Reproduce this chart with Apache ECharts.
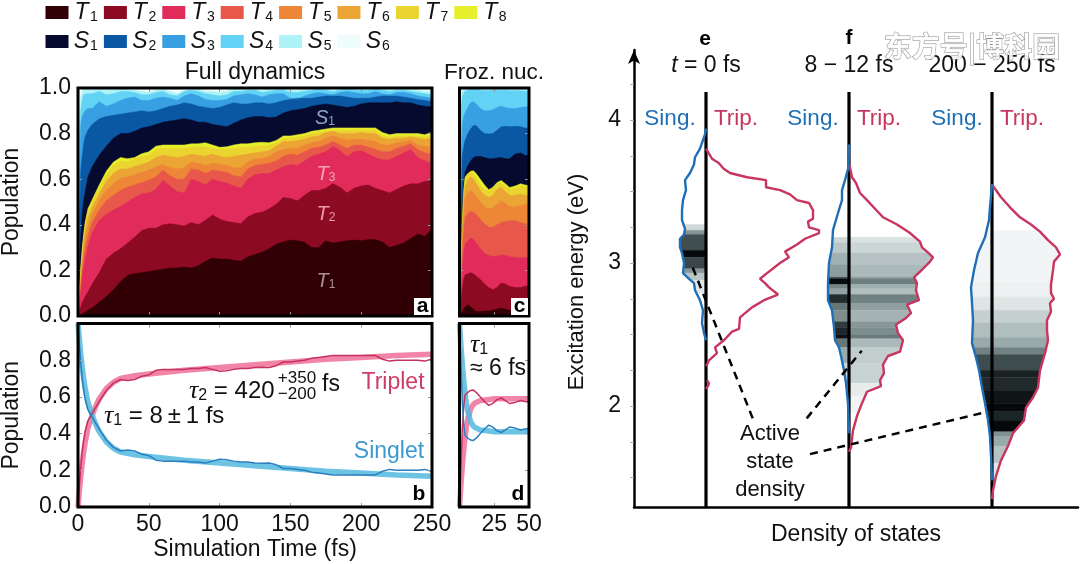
<!DOCTYPE html>
<html><head><meta charset="utf-8">
<script src="https://cdn.jsdelivr.net/npm/echarts@6/dist/echarts.min.js"></script>
<style>html,body{margin:0;padding:0;background:#fff}#c{width:1080px;height:564px}</style>
</head><body><div id="c"></div>
<script>
// ---------- panel a: upper boundary of each state, cumulative population ----------
const timeA=[0,1,2,3,4,5,7,10,15,20,25,30,35,40,45,50,55,60,65,70,75,80,85,90,95,100,105,110,115,120,125,130,135,140,145,150,155,160,165,170,175,180,185,190,195,200,205,210,215,220,225,230,235,240,245,250];
const aT1=[0,.003,.006,.01,.012,.015,.025,.035,.06,.085,.115,.15,.178,.185,.19,.195,.20,.205,.21,.21,.215,.21,.22,.24,.254,.25,.25,.245,.24,.26,.27,.28,.295,.315,.325,.333,.33,.323,.30,.30,.33,.32,.325,.33,.333,.33,.335,.335,.325,.30,.31,.32,.34,.36,.35,.38];
const aT2=[0,.02,.04,.06,.07,.085,.105,.14,.19,.25,.275,.295,.32,.345,.375,.385,.385,.40,.405,.40,.395,.41,.40,.42,.443,.425,.415,.41,.405,.435,.45,.455,.47,.49,.52,.515,.505,.53,.55,.55,.56,.58,.565,.54,.56,.57,.575,.56,.55,.54,.555,.57,.58,.58,.59,.595];
const aT3=[0,.05,.11,.17,.21,.245,.305,.365,.42,.445,.465,.48,.50,.52,.535,.54,.555,.595,.57,.545,.54,.60,.59,.575,.60,.59,.583,.57,.56,.60,.62,.625,.625,.64,.655,.665,.66,.68,.70,.71,.72,.745,.725,.70,.72,.725,.71,.695,.685,.685,.70,.715,.73,.695,.68,.67];
const aT4=[0,.07,.135,.2,.25,.29,.35,.41,.465,.505,.53,.55,.565,.575,.585,.595,.61,.64,.615,.60,.60,.645,.64,.625,.64,.635,.63,.615,.61,.645,.66,.665,.67,.68,.70,.71,.705,.72,.735,.74,.75,.765,.75,.735,.75,.75,.74,.73,.72,.72,.735,.745,.755,.73,.715,.71];
const aT5=[0,.085,.16,.23,.29,.335,.39,.445,.505,.55,.58,.605,.61,.62,.63,.64,.655,.665,.65,.645,.65,.675,.67,.66,.67,.665,.66,.65,.65,.675,.69,.69,.70,.72,.73,.735,.735,.75,.76,.765,.78,.79,.78,.77,.775,.775,.77,.765,.75,.75,.76,.765,.77,.75,.745,.74];
const aT6=[0,.10,.18,.26,.32,.37,.43,.475,.535,.59,.625,.645,.645,.655,.665,.675,.695,.705,.70,.695,.70,.71,.705,.70,.71,.70,.695,.70,.705,.71,.715,.72,.725,.745,.765,.765,.77,.775,.785,.79,.805,.81,.80,.80,.80,.805,.80,.80,.78,.775,.78,.78,.785,.78,.775,.78];
const aT7=[0,.11,.205,.285,.345,.395,.455,.50,.56,.62,.66,.68,.675,.69,.70,.705,.73,.735,.735,.735,.735,.74,.745,.74,.735,.73,.73,.735,.74,.74,.745,.745,.75,.76,.78,.78,.785,.79,.80,.805,.81,.815,.815,.815,.815,.815,.815,.815,.79,.785,.79,.79,.79,.79,.785,.795];
const aT8=[0,.12,.22,.30,.36,.41,.47,.51,.575,.635,.675,.695,.69,.695,.712,.72,.745,.75,.75,.75,.75,.755,.755,.76,.75,.74,.742,.75,.755,.755,.76,.762,.76,.77,.79,.79,.795,.80,.81,.815,.82,.825,.825,.825,.825,.825,.825,.825,.805,.795,.80,.80,.80,.80,.795,.807];
const aS1=[0,.2,.36,.45,.51,.54,.61,.655,.705,.745,.78,.80,.80,.81,.825,.83,.84,.85,.855,.86,.865,.86,.85,.85,.84,.835,.83,.845,.86,.87,.875,.875,.87,.873,.89,.90,.905,.91,.92,.925,.93,.925,.92,.915,.92,.93,.935,.935,.935,.935,.94,.935,.935,.925,.92,.917];
const aS2=[0,.4,.64,.70,.755,.785,.815,.84,.865,.875,.88,.885,.89,.895,.90,.895,.90,.91,.92,.925,.935,.93,.92,.915,.91,.915,.925,.935,.93,.93,.935,.935,.93,.935,.945,.95,.955,.955,.955,.96,.965,.965,.965,.96,.955,.955,.955,.96,.965,.965,.965,.96,.955,.95,.945,.94];
const aS3=[0,.55,.84,.875,.89,.90,.91,.91,.94,.92,.93,.945,.955,.96,.945,.945,.955,.96,.955,.945,.965,.975,.965,.95,.945,.945,.95,.965,.97,.975,.97,.96,.97,.975,.975,.955,.95,.965,.975,.98,.975,.97,.98,.985,.98,.975,.975,.985,.975,.97,.98,.98,.975,.965,.96,.955];
const aS4=[0,.75,.90,.95,.97,.975,.975,.975,.985,.97,.975,.985,.985,.98,.97,.97,.98,.985,.97,.965,.985,.99,.985,.975,.97,.965,.97,.985,.985,.99,.99,.98,.985,.99,.99,.98,.98,.985,.99,.995,.99,.985,.99,.995,.99,.99,.99,.995,.99,.985,.99,.99,.985,.98,.975,.97];
const aS5=[0,.85,.96,.985,.99,.995,.995,.995,.995,.99,.995,.995,.995,.99,.985,.98,.99,.995,.985,.975,.99,.995,.995,.985,.985,.98,.985,.995,.995,.995,.995,.99,.995,.995,.995,.99,.99,.995,.995,.998,.995,.99,.995,.998,.995,.995,.995,.998,.995,.995,.995,.995,.995,.99,.985,.985];
const aS6=timeA.map(()=>1);

// ---------- panel c: same, frozen nuclei ----------
const timeC=[0,1,2,3,4,6,8,10,12,15,18,21,24,27,30,33,36,40,44,47,50];
const cT1=[0,.01,.02,.03,.04,.05,.04,.03,.02,.02,.022,.022,.025,.03,.035,.03,.025,.025,.02,.015,.012];
const cT2=[0,.06,.12,.16,.18,.185,.19,.185,.175,.16,.14,.125,.115,.125,.145,.14,.13,.125,.125,.13,.133];
const cT3=[0,.1,.2,.27,.315,.33,.342,.335,.32,.295,.275,.265,.26,.262,.268,.266,.26,.257,.255,.255,.257];
const cT4=[0,.13,.27,.37,.43,.45,.46,.455,.445,.425,.405,.39,.39,.40,.41,.415,.418,.418,.41,.405,.40];
const cT5=[0,.16,.33,.45,.52,.54,.55,.54,.525,.50,.48,.47,.475,.49,.505,.495,.48,.477,.485,.49,.49];
const cT6=[0,.18,.37,.50,.565,.595,.61,.60,.58,.55,.53,.52,.53,.555,.565,.545,.53,.53,.535,.53,.528];
const cT7=[0,.2,.4,.53,.60,.62,.63,.625,.605,.57,.555,.547,.56,.58,.586,.57,.557,.56,.57,.567,.564];
const cT8=[0,.21,.42,.55,.61,.625,.635,.637,.625,.60,.575,.554,.565,.585,.594,.58,.564,.57,.58,.575,.572];
const cS1=[0,.25,.47,.58,.63,.66,.68,.695,.70,.70,.695,.69,.69,.693,.695,.69,.69,.71,.715,.705,.703];
const cS2=[0,.45,.70,.74,.77,.80,.82,.835,.835,.815,.80,.798,.80,.815,.83,.832,.83,.832,.83,.825,.825];
const cS3=[0,.70,.83,.875,.89,.915,.935,.94,.93,.91,.90,.90,.905,.915,.92,.915,.91,.91,.915,.917,.918];
const cS4=[0,.9,.96,.98,.985,.99,.995,.995,.995,.99,.988,.988,.99,.99,.99,.99,.988,.988,.988,.986,.985];
const cS5=[0,.95,.99,.995,.998,.998,.998,.998,.998,.998,.998,.998,.998,.998,.998,.998,.998,.998,.998,.998,.998];
const cS6=timeC.map(()=>1);

// ---------- panels b, d: fits (raw curves are the T8 boundary of a and c) ----------
const timeFitB=[0,1,2,3,4,5,7,10,12,15,20,25,30,40,50,75,100,125,150,175,200,225,250];
const fitTripB=[0,.09,.17,.24,.30,.35,.43,.50,.54,.59,.645,.68,.70,.715,.725,.745,.76,.775,.79,.805,.815,.825,.832];
const fitSingB=[1,.91,.83,.76,.70,.65,.57,.50,.46,.41,.355,.32,.30,.285,.275,.255,.24,.225,.21,.195,.185,.175,.168];
const timeFitD=[0,1,2,3,4,5,6,8,10,12,15,20,25,30,40,50];
const fitTripD=[0,.12,.22,.31,.38,.44,.48,.535,.56,.57,.58,.585,.59,.59,.59,.59];
const fitSingD=[1,.88,.78,.69,.62,.56,.52,.465,.44,.43,.42,.415,.41,.41,.41,.41];

// ---------- panels e, f, g: [energy eV, density] ----------
const tripE=[[3.80,0],[3.79,2],[3.73,6],[3.70,12.7],[3.66,17.7],[3.63,24],[3.60,41],[3.58,60],[3.53,60],[3.51,74],[3.48,84],[3.44,91],[3.42,103],[3.37,107],[3.31,107],[3.29,102],[3.25,103],[3.23,113],[3.21,113],[3.17,99],[3.13,91],[3.08,79],[3.04,83],[3.0,74],[2.94,63],[2.89,54],[2.86,59],[2.83,63],[2.78,72],[2.74,58],[2.69,46],[2.62,34],[2.54,33],[2.52,26],[2.46,18],[2.41,9],[2.37,11],[2.32,3],[2.29,1],[2.28,0]];
const tripE2=[[2.18,1],[2.16,3],[2.14,2],[2.12,0]];
const singE=[[3.94,0],[3.9,1],[3.86,3],[3.80,6],[3.74,11],[3.69,12],[3.63,16],[3.58,21],[3.51,20],[3.44,23],[3.37,24],[3.30,24],[3.24,21],[3.20,22],[3.17,26],[3.11,26],[3.07,24],[3.0,22],[2.93,23],[2.89,17],[2.86,12],[2.81,11],[2.74,6],[2.67,3],[2.58,4],[2.51,2],[2.46,0]];
const tripF=[[3.69,0],[3.67,1],[3.60,3],[3.56,7],[3.49,11],[3.44,18],[3.38,26],[3.32,34],[3.27,48],[3.21,61],[3.15,71],[3.11,73],[3.08,78],[3.04,84],[3.01,81],[2.96,74],[2.90,65],[2.86,68],[2.81,67],[2.74,70],[2.71,58],[2.65,62],[2.61,56],[2.57,47],[2.51,49],[2.46,54],[2.38,51],[2.35,39],[2.29,34],[2.23,35],[2.18,31],[2.14,32],[2.10,18],[2.02,13],[1.93,8],[1.83,4],[1.71,2],[1.68,0]];
const singF=[[3.83,0],[3.67,.5],[3.58,4],[3.51,7],[3.44,7],[3.35,11],[3.23,16],[3.11,17],[3.0,20],[2.86,21],[2.74,21],[2.67,17],[2.55,15],[2.46,14],[2.41,10],[2.35,8],[2.25,5],[2.16,3],[2.02,1],[1.81,0]];
const tripG=[[3.55,0],[3.52,3],[3.46,9],[3.39,18],[3.32,28],[3.27,39],[3.22,48],[3.16,56],[3.11,64],[3.06,68],[3.01,62],[2.95,61],[2.85,59],[2.79,59],[2.75,62],[2.72,58],[2.66,59],[2.60,55],[2.53,55],[2.46,56],[2.37,53],[2.25,48],[2.13,46],[2.06,41],[1.99,34],[1.90,32],[1.81,21],[1.72,16],[1.62,9],[1.51,4],[1.41,1],[1.35,0]];
const singG=[[3.55,0],[3.39,2],[3.30,3],[3.18,7],[3.07,14],[2.95,18],[2.83,21],[2.72,20],[2.60,19],[2.44,20],[2.34,16],[2.25,13],[2.13,10],[2.02,7],[1.90,4],[1.79,2],[1.65,1],[1.48,0]];

// active-state density: band edges (eV, descending), relative intensity on the singlet and triplet sides
const edgesE=[3.27,3.23,3.20,3.09,3.04,2.96,2.93,2.88,2.79];
const activeSingE=[.18,.48,.75,.99,.78,.48,.28,.12];
const edgesF=[3.18,3.14,3.07,2.99,2.90,2.89,2.85,2.82,2.78,2.72,2.67,2.59,2.55,2.50,2.47,2.41,2.30,2.16,2.07,1.95];
const activeSingF=[.20,.27,.37,.45,.82,.98,.55,.43,.87,.60,.51,.82,.89,.96,.60,.40,.18,.09,.05];
const activeTripF=[.15,.20,.29,.33,.50,.57,.37,.31,.56,.44,.36,.47,.51,.59,.33,.24,.22,.10,.05];
const edgesG=[3.23,2.86,2.76,2.67,2.58,2.48,2.41,2.36,2.25,2.20,2.11,2.02,1.96,1.90,1.82,1.79,1.72,1.60,1.48];
const activeG=[.05,.07,.13,.23,.31,.40,.56,.76,.91,.88,.95,.99,.90,.99,.50,.40,.29,.12];

const activeLead1=[[118.7,1.914],[57.7,2.986]];
const activeLead2=[[172.7,1.914],[227.7,2.387]];
const activeLead3=[[176,1.664],[351,1.956]];

const stateNames=['T1','T2','T3','T4','T5','T6','T7','T8','S1','S2','S3','S4','S5','S6'];
const stateColors=['#300005','#8c0a22','#e12c5b','#e8584a','#ee8638','#eaa534','#ead42f','#e6ef2c','#060a2e','#0a58a4','#389fe2','#62d2f5','#aef3f7','#eefcfc'];
const boundsA=[aT1,aT2,aT3,aT4,aT5,aT6,aT7,aT8,aS1,aS2,aS3,aS4,aS5,aS6];
const boundsC=[cT1,cT2,cT3,cT4,cT5,cT6,cT7,cT8,cS1,cS2,cS3,cS4,cS5,cS6];
const yTicks=[0,.2,.4,.6,.8,1];
const font='"Liberation Sans"';
const FS=23;
const baseE=72,baseF=215,baseG=358;

// each state's area is painted from its cumulative upper boundary down, top state first
function layered(times,bounds,xi,yi){
  return bounds.map((b,i)=>({
    name:stateNames[i],type:'line',xAxisIndex:xi,yAxisIndex:yi,symbol:'none',silent:true,
    itemStyle:{color:stateColors[i]},
    lineStyle:{width:.5,color:stateColors[i]},
    areaStyle:{color:stateColors[i],opacity:1},
    data:times.map((t,k)=>[t,b[k]])
  })).reverse();
}
function line(times,vals,xi,yi,color,width,opacity){
  return {type:'line',xAxisIndex:xi,yAxisIndex:yi,symbol:'none',silent:true,z:3,
    lineStyle:{color,width,opacity:opacity==null?1:opacity},
    data:times.map((t,k)=>[t,vals[k]])};
}
function ax(dim,grid,pos,min,max,labelVals,tickVals,show){
  return {type:'value',gridIndex:grid,position:pos,min,max,z:5,splitLine:{show:false},
    axisLine:{show:false,onZero:false},
    axisTick:{show:true,inside:true,length:4,lineStyle:{color:'#9a9a9a',width:1},customValues:tickVals},
    axisLabel:{show:!!show,customValues:labelVals||[],color:'#111',fontFamily:font,fontSize:FS,
      margin:dim==='y'?7:6,hideOverlap:false,showMinLabel:true,showMaxLabel:true,
      padding:dim==='y'?[2,0,0,0]:0,
      formatter:dim==='y'?(v=>v.toFixed(1)):(v=>String(v))}};
}
const nameStyle={color:'#111',fontFamily:font,fontSize:FS};
const xAxes=[
  ax('x',0,'bottom',0,250,[],[50,100,150,200]),ax('x',0,'top',0,250,[],[50,100,150,200]),
  ax('x',1,'bottom',0,250,[0,50,100,150,200,250],[50,100,150,200],true),ax('x',1,'top',0,250,[],[50,100,150,200]),
  ax('x',2,'bottom',0,50,[],[25]),ax('x',2,'top',0,50,[],[25]),
  ax('x',3,'bottom',0,50,[25,50],[25],true),ax('x',3,'top',0,50,[],[25]),
  {type:'value',gridIndex:4,min:0,max:444,z:5,splitLine:{show:false},
   axisLine:{show:true,onZero:false,lineStyle:{color:'#000',width:2.5}},axisTick:{show:false},axisLabel:{show:false},
   name:'Density of states',nameLocation:'middle',nameGap:16,nameTextStyle:nameStyle}
];
xAxes[2].name='Simulation Time (fs)';xAxes[2].nameLocation='middle';xAxes[2].nameGap=31;xAxes[2].nameMoveOverlap=false;xAxes[2].nameTextStyle=nameStyle;
const yAxes=[
  ax('y',0,'left',0,1,yTicks,[.2,.4,.6,.8],true),ax('y',0,'right',0,1,[],[.2,.4,.6,.8]),
  ax('y',1,'left',0,1,[0,.2,.4,.6,.8],[.2,.4,.6,.8],true),ax('y',1,'right',0,1,[],[.2,.4,.6,.8]),
  ax('y',2,'left',0,1,[],[.2,.4,.6,.8]),ax('y',2,'right',0,1,[],[.2,.4,.6,.8]),
  ax('y',3,'left',0,1,[],[.2,.4,.6,.8]),ax('y',3,'right',0,1,[],[.2,.4,.6,.8]),
  {type:'value',gridIndex:4,min:1.294,max:4.49,z:5,splitLine:{show:false},
   axisLine:{show:true,onZero:false,symbol:['none','arrow'],symbolSize:[9,14],lineStyle:{color:'#000',width:2.5}},
   axisTick:{show:true,length:4,lineStyle:{color:'#aaa',width:1},customValues:[1.5,1.75,2,2.25,2.5,2.75,3,3.25,3.5,3.75,4,4.25]},
   axisLabel:{show:true,customValues:[2,3,4],color:'#111',fontFamily:font,fontSize:FS,margin:13,padding:[4,0,0,0],formatter:v=>String(v)}}
];
yAxes[0].name='Population';yAxes[0].nameLocation='middle';yAxes[0].nameGap=55;yAxes[0].nameTextStyle=nameStyle;
yAxes[2].name='Population';yAxes[2].nameLocation='middle';yAxes[2].nameGap=55;yAxes[2].nameTextStyle=nameStyle;

function curveAt(c,e){
  for(let i=0;i<c.length-1;i++){
    const a=c[i],b=c[i+1];
    if(e<=a[0]&&e>=b[0]){return a[0]===b[0]?a[1]:a[1]+(b[1]-a[1])*(a[0]-e)/(a[0]-b[0]);}
  }
  return 0;
}
function grey(v){
  const f=1-v;
  return 'rgb('+Math.round(2+253*f)+','+Math.round(6+249*f+55*f*v)+','+Math.round(8+247*f+55*f*v)+')';
}
const bands=[];
function addBands(base,side,curve,edges,vals){
  vals.forEach((v,i)=>{
    const hi=edges[i],lo=edges[i+1];
    const pts=[[hi,curveAt(curve,hi)]];
    curve.forEach(p=>{if(p[0]<hi&&p[0]>lo)pts.push(p);});
    pts.push([lo,curveAt(curve,lo)]);
    bands.push({base,side,pts,hi,lo,v});
  });
}
addBands(baseE,-1,singE,edgesE,activeSingE);
addBands(baseF,-1,singF,edgesF,activeSingF);
addBands(baseF,1,tripF,edgesF,activeTripF);
addBands(baseG,-1,singG,edgesG,activeG);
addBands(baseG,1,tripG,edgesG,activeG);

function dos(base,side,curve,color){
  return {type:'line',xAxisIndex:8,yAxisIndex:8,symbol:'none',silent:true,z:6,
    lineStyle:{color,width:2.4},data:curve.map(p=>[base+side*p[1],p[0]])};
}
function vbar(x){
  return {type:'line',xAxisIndex:8,yAxisIndex:8,symbol:'none',silent:true,z:5,
    lineStyle:{color:'#000',width:3.2},data:[[x,1.294],[x,4.196]]};
}
function lead(p){
  return {type:'line',xAxisIndex:8,yAxisIndex:8,symbol:'none',silent:true,z:7,
    lineStyle:{color:'#000',width:2.5,type:[8,6]},data:p};
}
const TRIP='#c8355f',SING='#1f6fb7';
const series=[
  ...layered(timeA,boundsA,0,0),
  ...layered(timeC,boundsC,4,4),
  line(timeFitB,fitTripB,2,2,'#ee6f98',5.5,.85),
  line(timeFitB,fitSingB,2,2,'#52b8de',5.5,.85),
  line(timeA,aT8,2,2,'#c5325f',1.5),
  line(timeA,aT8.map(v=>1-v),2,2,'#2b7fbf',1.5),
  line(timeFitD,fitTripD,6,6,'#ee6f98',5.5,.85),
  line(timeFitD,fitSingD,6,6,'#52b8de',5.5,.85),
  line(timeC,cT8,6,6,'#c5325f',1.5),
  line(timeC,cT8.map(v=>1-v),6,6,'#2b7fbf',1.5),
  {type:'custom',xAxisIndex:8,yAxisIndex:8,silent:true,clip:false,z:3,
   data:bands.map((b,i)=>[i]),
   renderItem:(params,api)=>{
     const b=bands[params.dataIndex];
     const left=b.pts.map(p=>api.coord([b.base+b.side*p[1],p[0]]));
     const right=[api.coord([b.base,b.lo]),api.coord([b.base,b.hi])];
     const c=grey(b.v);
     return {type:'polygon',shape:{points:left.concat(right)},style:{fill:c,stroke:c,lineWidth:.4}};
   }},
  vbar(baseE),vbar(baseF),vbar(baseG),
  dos(baseE,1,tripE,TRIP),dos(baseE,1,tripE2,TRIP),dos(baseE,-1,singE,SING),
  dos(baseF,1,tripF,TRIP),dos(baseF,-1,singF,SING),
  dos(baseG,1,tripG,TRIP),dos(baseG,-1,singG,SING),
  lead(activeLead1),lead(activeLead2),lead(activeLead3)
];

function t(text,x,y,size,opts){
  opts=opts||{};
  return {type:'text',x,y,z:20,rotation:opts.rot||0,silent:true,style:Object.assign({
    text,fill:opts.fill||'#111',font:(opts.style||'')+' '+size+'px '+(opts.family||font),
    align:opts.align||'center',verticalAlign:'middle'},opts.extra||{})};
}
const richTau={g:{fontFamily:'"Liberation Serif"',fontStyle:'italic',fontSize:26,fill:'#111'},
  s:{fontFamily:font,fontSize:16,padding:[9,0,0,0],fill:'#111'},
  n:{fontFamily:font,fontSize:24,fill:'#111'}};
function stateLabel(a,b,x,y,fill){
  return {type:'text',x,y,z:20,silent:true,style:{text:'{i|'+a+'}{s|'+b+'}',align:'center',verticalAlign:'middle',
    rich:{i:{fontFamily:font,fontStyle:'italic',fontSize:20,fill},s:{fontFamily:font,fontSize:12,fill,padding:[8,0,0,0]}}}};
}
const graphics=[
  t('Full dynamics',255,73,FS),t('Froz. nuc.',494,73,22.5),
  {type:'rect',z:15,silent:true,shape:{x:414,y:298,width:17,height:17},style:{fill:'#fff'}},
  {type:'rect',z:15,silent:true,shape:{x:511,y:298,width:17,height:17},style:{fill:'#fff'}},
  t('a',422.5,306,21,{style:'bold',fill:'#000'}),t('c',519.5,306,21,{style:'bold',fill:'#000'}),
  t('b',419,494,21,{style:'bold',fill:'#000'}),t('d',518,494,21,{style:'bold',fill:'#000'}),
  stateLabel('S','1',325,118,'#8fa4c2'),stateLabel('T','3',326,174,'#f4a5b6'),
  stateLabel('T','2',326,214,'#ee9aac'),stateLabel('T','1',326,281,'#ab9299'),
  t('Triplet',393,383,FS,{fill:'#cf3b68'}),t('Singlet',389,452,FS,{fill:'#3b9ad0'}),
  {type:'text',x:104,y:416,z:20,silent:true,style:{text:'{g|τ}{s|1}{n| = 8\u2009±\u20091 fs}',align:'left',verticalAlign:'middle',rich:richTau}},
  {type:'text',x:189,y:391,z:20,silent:true,style:{text:'{g|τ}{s|2}{n| = 420}',align:'left',verticalAlign:'middle',rich:richTau}},
  t('+350',297,378,17),t('−200',297,394,17),t('fs',331,385,FS),
  {type:'text',x:470,y:345,z:20,silent:true,style:{text:'{g|τ}{s|1}',align:'left',verticalAlign:'middle',rich:richTau}},
  t('≈ 6 fs',498,369,FS),
  t('e',705,39,21,{style:'bold',fill:'#000'}),t('f',849,38,21,{style:'bold',fill:'#000'}),
  {type:'text',x:706,y:66,z:20,silent:true,style:{text:'{g|t}{n| = 0 fs}',align:'center',verticalAlign:'middle',
    rich:{g:{fontFamily:font,fontStyle:'italic',fontSize:FS,fill:'#111'},n:{fontFamily:font,fontSize:FS,fill:'#111'}}}},
  t('8 − 12 fs',849,66,FS),t('200 − 250 fs',992,66,FS),
  t('Sing.',670,119,22.5,{fill:SING}),t('Trip.',736,119,22.5,{fill:TRIP}),
  t('Sing.',813,119,22.5,{fill:SING}),t('Trip.',879,119,22.5,{fill:TRIP}),
  t('Sing.',957,119,22.5,{fill:SING}),t('Trip.',1022,119,22.5,{fill:TRIP}),
  t('Active',770,434,22),t('state',770,462,22),t('density',770,490,22),
  t('Excitation energy (eV)',577,282,22,{rot:Math.PI/2}),
  {type:'text',x:972,y:46,z:25,silent:true,style:{text:'东方号|博科园',align:'center',verticalAlign:'middle',
    font:'bold 28px "Noto Sans CJK SC"',fill:'rgba(255,255,255,.9)',stroke:'#8f8f8f',lineWidth:1}}
];
const legendRich={i:{fontFamily:font,fontStyle:'italic',fontSize:23,color:'#111',width:16,align:'right'},
  s:{fontFamily:font,fontSize:14,color:'#111',width:9,padding:[10,0,0,0]}};
const legendBase={show:true,orient:'horizontal',icon:'rect',itemWidth:23,itemHeight:13,itemGap:6,padding:0,selectedMode:false,
  textStyle:{rich:legendRich},formatter:n=>'{i|'+n[0]+'}{s|'+n[1]+'}'};

const chart=echarts.init(document.getElementById('c'),null,{renderer:'canvas'});
const frame={show:true,z:10,backgroundColor:'transparent',borderColor:'#000',borderWidth:3,outerBoundsMode:'none'};
chart.setOption({
  animation:false,backgroundColor:'#fff',
  legend:[
    Object.assign({},legendBase,{left:45.5,top:1,data:stateNames.slice(0,8)}),
    Object.assign({},legendBase,{left:45.5,top:30,data:stateNames.slice(8)})
  ],
  grid:[
    Object.assign({left:78,top:88,width:354,height:228},frame),
    Object.assign({left:78,top:323.5,width:354,height:183.5},frame),
    Object.assign({left:459.5,top:88,width:69.5,height:228},frame),
    Object.assign({left:459.5,top:323.5,width:69.5,height:183.5},frame),
    {left:634,top:50,width:444,height:457,show:false,outerBoundsMode:'none'}
  ],
  xAxis:xAxes,yAxis:yAxes,series,graphic:graphics
});
</script></body></html>
